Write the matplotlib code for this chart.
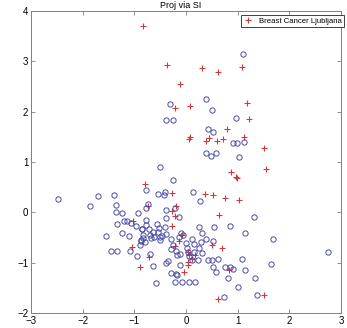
import numpy as np
import matplotlib
matplotlib.use("Agg")
import matplotlib.pyplot as plt

plt.rcParams["font.family"] = ["Liberation Sans", "DejaVu Sans"]

# class 1 (plus markers) projected coordinates
plus_x = [-0.84, -0.37, 0.31, 0.62, 1.08, -0.11, -0.22, 0.08, 1.19, 1.21,
          0.07, 0.06, 0.80, 0.44, 0.38, 0.60, 0.72, 1.12, 1.51, 0.88,
          0.98, 0.97, 1.55, -0.80, -0.27, 0.36, 0.52, 0.75, 1.03, -0.19,
          -0.27, -0.22, 0.63, -0.74, -1.03, -1.04, -0.90, -0.28, -0.07, -0.13,
          -0.22, 0.04, 0.05, 0.18, 0.03, 0.04, 0.12, -0.71, -0.04, 0.50,
          0.70, 0.83, 0.61, 1.50]
plus_y = [3.71, 2.93, 2.86, 2.78, 2.88, 2.54, 2.08, 2.11, 2.17, 1.86,
          1.50, 1.46, 1.66, 1.47, 1.41, 1.41, 1.45, 1.49, 1.27, 0.80,
          0.69, 0.71, 0.86, 0.57, 0.39, 0.37, 0.34, 0.29, 0.24, 0.12,
          0.02, -0.07, -0.06, 0.12, -0.17, -0.69, -1.09, -0.28, -0.45, -0.57,
          -0.66, -0.79, -0.85, -0.84, -0.99, -1.04, -0.92, -0.88, -1.19, -0.64,
          -0.71, -1.15, -1.72, -1.64]

# class 2 (circle markers) projected coordinates
circ_x = [1.10, -0.31, 0.38, 0.50, -0.38, -0.26, 0.97, 0.43, 0.53, 0.91,
          0.99, 1.12, 0.38, 0.48, 0.58, 1.02, -0.51, -0.26, -0.77, -0.55,
          -0.43, -0.40, 0.13, 0.28, -0.39, -0.22, -0.39, -0.14, 1.32, 1.14,
          1.69, 2.75, 1.09, 1.65, 0.86, 1.14, 1.34, 1.01, 1.37, 0.86,
          -2.47, -1.85, -1.70, -1.40, -1.36, -1.36, -1.23, -0.92, -1.33, -1.20,
          -1.14, -1.07, -0.96, -1.24, -1.11, -1.55, -0.88, -1.46, -1.34, -1.08,
          -0.94, -0.73, -0.78, -0.77, -0.85, -0.77, -0.72, -0.57, -0.53, -0.41,
          -0.38, -0.68, -0.61, -0.51, -0.50, -0.79, -0.90, -0.84, -0.30, -0.26,
          -0.14, -0.09, -0.06, 0.00, 0.02, 0.11, 0.15, 0.25, 0.30, 0.26,
          0.29, 0.38, 0.53, 0.54, -0.30, -0.20, -0.11, -0.18, 0.03, 0.06,
          0.15, 0.30, 0.12, 0.24, 0.42, 0.50, 0.61, 0.52, 0.59, 0.82,
          0.91, 0.73, -0.11, -0.38, -0.35, -0.20, -0.18, -0.07, 0.05, 0.17,
          -0.22, -0.59, -0.64, -0.70, -0.86, -0.88, -0.83, -0.69, -0.63, -0.55,
          -0.46, -0.30, 0.75]
circ_y = [3.15, 2.15, 2.25, 2.03, 1.84, 1.84, 1.87, 1.66, 1.60, 1.37,
          1.37, 1.39, 1.17, 1.11, 1.17, 1.10, 0.91, 0.64, 0.44, 0.36,
          0.34, 0.40, 0.41, 0.22, 0.04, 0.09, -0.11, -0.09, -0.09, -0.41,
          -0.53, -0.79, -0.93, -1.02, -1.09, -1.15, -1.31, -1.49, -1.64, -0.27,
          0.26, 0.12, 0.32, 0.35, 0.15, 0.01, -0.02, -0.01, -0.23, -0.18,
          -0.18, -0.21, -0.28, -0.41, -0.48, -0.48, -0.56, -0.76, -0.76, -0.76,
          -0.86, 0.16, 0.09, -0.16, -0.34, -0.26, -0.33, -0.24, -0.31, -0.30,
          -0.44, -0.51, -0.50, -0.50, -0.54, -0.59, -0.65, -0.51, -0.52, -0.64,
          -0.50, -0.41, -0.45, -0.60, -0.70, -0.52, -0.63, -0.30, -0.41, -0.70,
          -0.59, -0.52, -0.56, -0.29, -0.73, -0.76, -0.82, -0.85, -0.78, -0.87,
          -0.78, -0.80, -0.95, -0.95, -0.95, -0.95, -0.92, -1.09, -1.18, -1.31,
          -1.13, -1.69, -1.05, -1.00, -0.96, -1.22, -1.25, -1.39, -1.39, -1.39,
          -1.39, -1.41, -1.07, -0.83, -0.34, -0.54, -0.45, -0.46, -0.39, -0.39,
          -0.48, -1.21, -1.09]

x_ticks = [-3, -2, -1, 0, 1, 2, 3]
y_ticks = [-2, -1, 0, 1, 2, 3, 4]

fig = plt.figure(figsize=(3.47, 3.28), dpi=100)
ax = fig.add_axes([31 / 347, 1 - 313 / 328, 310 / 347, 302 / 328])

ax.plot(plus_x, plus_y, "+", color="#d03a3a", markersize=4.5, markeredgewidth=0.8,
        label="Breast Cancer Ljubljana")
ax.plot(circ_x, circ_y, "o", color="#4a4aa8", markerfacecolor="none", markersize=3.8,
        markeredgewidth=0.7)

ax.set_xlim(-3, 3)
ax.set_ylim(-2, 4)
ax.set_xticks(x_ticks)
ax.set_yticks(y_ticks)
ax.tick_params(direction="in", length=3, width=0.6, color="#808080", labelsize=7,
               top=True, right=True, pad=2)
for s in ax.spines.values():
    s.set_color("#808080")
    s.set_linewidth(0.7)

fig.text(0.52, 1 - 5 / 328, "Proj via SI", ha="center", va="center", fontsize=6.5)

leg = ax.legend(loc="upper right", bbox_to_anchor=(344 / 347, 1 - 15 / 328),
                bbox_transform=fig.transFigure, borderaxespad=0, fontsize=5.6,
                handlelength=1.3, handletextpad=0.7, borderpad=0.3,
                fancybox=False, framealpha=1)
leg.get_frame().set_edgecolor("#404040")
leg.get_frame().set_linewidth(0.7)

fig.savefig("out.png", dpi=100)
